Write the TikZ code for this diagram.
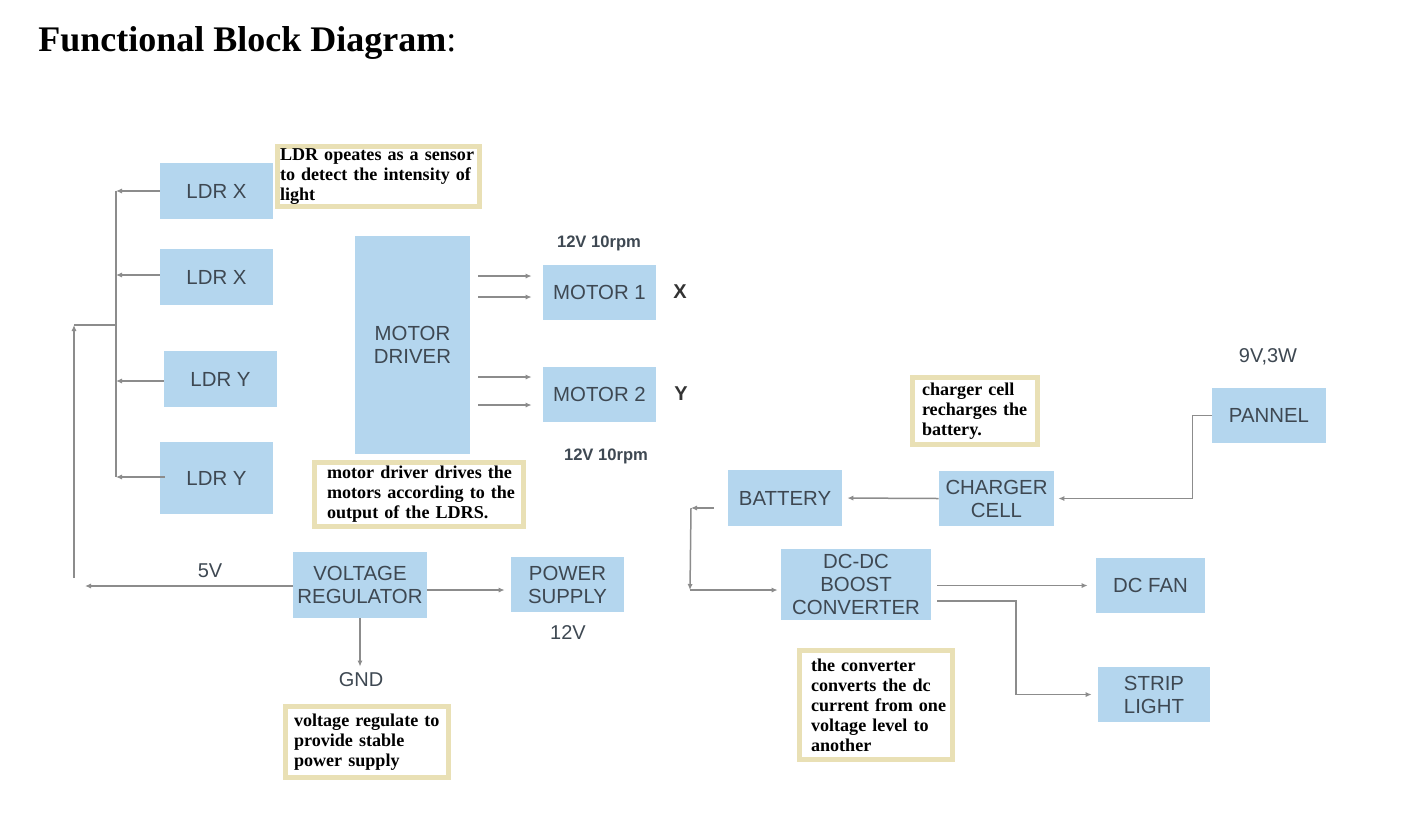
\documentclass[tikz,border=0pt]{standalone}
\usepackage{fontspec}
\setmainfont{Liberation Sans}
\newfontfamily\notefamily{Liberation Serif}
\usetikzlibrary{arrows.meta,calc}
\definecolor{boxblue}{RGB}{180,214,238}
\definecolor{boxtext}{RGB}{62,72,82}
\definecolor{linegray}{RGB}{140,140,140}
\definecolor{noteborder}{RGB}{233,224,181}
\begin{document}
\begin{tikzpicture}[x=0.5pt,y=-0.5pt,
 blk/.style={fill=boxblue, draw=none, text=boxtext, font=\fontsize{10.2}{11.5}\selectfont, align=center, inner sep=0pt},
 note/.style={draw=noteborder, line width=2.5pt, fill=white, text=black, font=\notefamily\bfseries\fontsize{9.05}{10}\selectfont, align=left, inner ysep=0pt},
 ln/.style={draw=linegray, line width=0.75pt},
 arr/.style={ln, -{Latex[length=3pt,width=2.6pt]}},
 lbl/.style={text=boxtext, font=\fontsize{10}{12}\selectfont, inner sep=0pt},
 rpm/.style={text=boxtext, font=\bfseries\fontsize{8.3}{10}\selectfont, inner sep=0pt},
 axis/.style={text=black!80, font=\bfseries\fontsize{10}{12}\selectfont, inner sep=0pt}
]
\useasboundingbox (0,0) rectangle (1401,820);
\fill[white] (0,0) rectangle (1401,820);

% title
\node[anchor=base west, inner sep=0pt, font=\notefamily\fontsize{18}{20}\selectfont] (title) at (38,51) {\bfseries Functional Block Diagram\mdseries:};

% blocks
\node[blk, minimum width=56.5pt, minimum height=28pt] (ldr1) at (216.5,191) {LDR X};
\node[blk, minimum width=56.5pt, minimum height=28pt] (ldr2) at (216.5,277) {LDR X};
\node[blk, minimum width=56.5pt, minimum height=28pt] (ldr3) at (220.5,379) {LDR Y};
\node[blk, minimum width=56.5pt, minimum height=36pt] (ldr4) at (216.5,478) {LDR Y};
\node[blk, minimum width=57.5pt, minimum height=109pt] (md) at (412.5,345) {MOTOR\\DRIVER};
\node[blk, minimum width=56.5pt, minimum height=27.5pt] (m1) at (599.5,292.5) {MOTOR 1};
\node[blk, minimum width=56.5pt, minimum height=27.5pt] (m2) at (599.5,394.5) {MOTOR 2};
\node[blk, minimum width=67pt, minimum height=33pt] (vr) at (360,585) {VOLTAGE\\REGULATOR};
\node[blk, minimum width=56.5pt, minimum height=27.5pt] (ps) at (567.5,584.5) {POWER\\SUPPLY};
\node[blk, minimum width=57pt, minimum height=28pt] (bat) at (785,498) {BATTERY};
\node[blk, minimum width=57.5pt, minimum height=27.5pt] (cc) at (996.5,498.5) {CHARGER\\CELL};
\node[blk, minimum width=57pt, minimum height=27.5pt] (pn) at (1269,415.5) {PANNEL};
\node[blk, minimum width=75pt, minimum height=35.5pt] (dc) at (856,584.5) {DC-DC\\BOOST\\CONVERTER};
\node[blk, minimum width=54.5pt, minimum height=27.5pt] (fan) at (1150.5,585.5) {DC FAN};
\node[blk, minimum width=56pt, minimum height=27.5pt] (sl) at (1154,694.5) {STRIP\\LIGHT};

% notes
\node[note, text width=98.5pt, inner xsep=1.25pt, minimum height=30pt] (n1) at (378.5,176.5)
 {\mbox{LDR opeates as a sensor}\\\mbox{to detect the intensity of}\\\mbox{light}};
\node[note, text width=92pt, inner xsep=6.25pt, minimum height=32pt] (n2) at (419,494.5)
 {\mbox{motor driver drives the}\\\mbox{motors according to the}\\\mbox{output of the LDRS.}};
\node[note, text width=73pt, inner xsep=4.25pt, minimum height=35.5pt] (n3) at (367,742)
 {\mbox{voltage regulate to}\\\mbox{provide stable}\\\mbox{power supply}};
\node[note, text width=53pt, inner xsep=4.75pt, minimum height=33.5pt] (n4) at (975,411)
 {\mbox{charger cell}\\\mbox{recharges the}\\\mbox{battery.}};
\node[note, text width=65pt, inner xsep=5.75pt, minimum height=54.5pt] (n5) at (876,705)
 {\mbox{the converter}\\\mbox{converts the dc}\\\mbox{current from one}\\\mbox{voltage level to}\\\mbox{another}};

% labels
\node[rpm] (r1) at (599,243) {12V 10rpm};
\node[rpm] (r2) at (606,456) {12V 10rpm};
\node[axis] (lx) at (680,292) {X};
\node[axis] (ly) at (681,394) {Y};
\node[lbl] (v5) at (210,571) {5V};
\node[lbl] (v12) at (568,633) {12V};
\node[lbl] (gnd) at (361,680) {GND};
\node[lbl] (w9) at (1268,357) {9V,3W};

% LDR bus
\coordinate (busT) at (116,191);
\coordinate (busB) at (116,477);
\coordinate (busM) at (116,325);
\coordinate (lt) at (74,325);
\coordinate (lb) at (74,578);
\coordinate (v5e) at (85,586);
\draw[ln] (busT) -- (busB);
\draw[arr] (ldr1.west) -- (ldr1.west -| busT);
\draw[arr] ($(ldr2.west)+(0,-2)$) -- ($(ldr2.west -| busT)+(0,-2)$);
\draw[arr] ($(ldr3.west)+(0,2)$) -- ($(ldr3.west -| busT)+(0,2)$);
\draw[arr, shorten <=-2.5pt] ($(ldr4.west)+(0,-1)$) -- ($(ldr4.west -| busT)+(0,-1)$);
\draw[ln] (busM) -- (lt);
\draw[arr] (lb) -- (lt);
\draw[arr] (vr.west |- v5e) -- (v5e);

% motor driver outputs
\coordinate (a1) at (0,276);
\coordinate (a2) at (0,297);
\coordinate (a3) at (0,377);
\coordinate (a4) at (0,405);
\draw[arr, shorten <=4pt, shorten >=5.5pt] (a1 -| md.east) -- (a1 -| m1.west);
\draw[arr, shorten <=4pt, shorten >=5.5pt] (a2 -| md.east) -- (a2 -| m1.west);
\draw[arr, shorten <=4pt, shorten >=5.5pt] (a3 -| md.east) -- (a3 -| m2.west);
\draw[arr, shorten <=4pt, shorten >=5.5pt] (a4 -| md.east) -- (a4 -| m2.west);

% regulator
\coordinate (vp) at (0,590);
\draw[arr, shorten >=3pt] (vp -| vr.east) -- (vp -| ps.west);
\draw[arr, shorten >=3pt] (vr.south) -- (vr.south |- gnd.north);

% power chain
\draw[arr, shorten >=2.5pt] (cc.west) -- (bat.east);
\draw[arr, shorten >=2pt] (pn.west) -- ++(-19,0) |- (cc.east);
\coordinate (bj) at (691,508);
\coordinate (bk) at (690,590);
\draw[arr, shorten <=7pt] (bat.west |- bj) -- (bj);
\draw[arr] (bj) -- (bk);
\draw[arr, shorten >=1.5pt] (bk) -- (bk -| dc.west);
\draw[arr, shorten <=3pt, shorten >=4pt] (dc.east |- fan.west) -- (fan.west);
\coordinate (ds) at (0,601);
\coordinate (sx) at (1016,0);
\draw[arr, shorten <=3pt, shorten >=3pt] (ds -| dc.east) -- (ds -| sx) |- (sl.west);
\end{tikzpicture}
\end{document}
